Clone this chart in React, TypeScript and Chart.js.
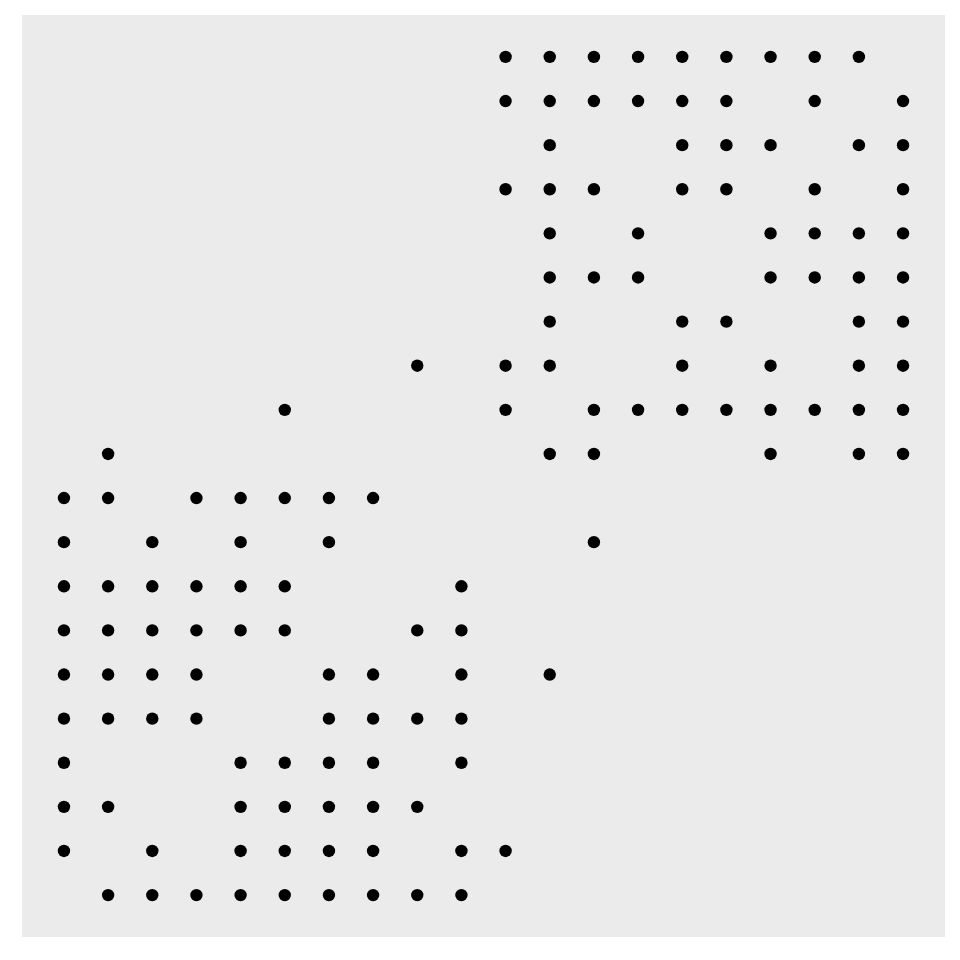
import React, { useEffect, useRef } from "react";
import { Chart, registerables } from "chart.js";

Chart.register(...registerables);

// Node labels (1..20) shared by both axes
const nodes: number[] = Array.from({ length: 20 }, (_, i) => i + 1);

// Adjacency: for each row (top to bottom), the columns that hold a dot
const row01 = [11, 12, 13, 14, 15, 16, 17, 18, 19];
const row02 = [11, 12, 13, 14, 15, 16, 18, 20];
const row03 = [12, 15, 16, 17, 19, 20];
const row04 = [11, 12, 13, 15, 16, 18, 20];
const row05 = [12, 14, 17, 18, 19, 20];
const row06 = [12, 13, 14, 17, 18, 19, 20];
const row07 = [12, 15, 16, 19, 20];
const row08 = [9, 11, 12, 15, 17, 19, 20];
const row09 = [6, 11, 13, 14, 15, 16, 17, 18, 19, 20];
const row10 = [2, 12, 13, 17, 19, 20];
const row11 = [1, 2, 4, 5, 6, 7, 8];
const row12 = [1, 3, 5, 7, 13];
const row13 = [1, 2, 3, 4, 5, 6, 10];
const row14 = [1, 2, 3, 4, 5, 6, 9, 10];
const row15 = [1, 2, 3, 4, 7, 8, 10, 12];
const row16 = [1, 2, 3, 4, 7, 8, 9, 10];
const row17 = [1, 5, 6, 7, 8, 10];
const row18 = [1, 2, 5, 6, 7, 8, 9];
const row19 = [1, 3, 5, 6, 7, 8, 10, 11];
const row20 = [2, 3, 4, 5, 6, 7, 8, 9, 10];

const rows = [
  row01, row02, row03, row04, row05, row06, row07, row08, row09, row10,
  row11, row12, row13, row14, row15, row16, row17, row18, row19, row20,
];

const panelBg = {
  id: "panelBg",
  beforeDraw(chart: any) {
    const { ctx, chartArea } = chart;
    ctx.save();
    ctx.fillStyle = "#EBEBEB";
    ctx.fillRect(chartArea.left, chartArea.top, chartArea.right - chartArea.left, chartArea.bottom - chartArea.top);
    ctx.restore();
  },
};

export default function App() {
  const ref = useRef<HTMLCanvasElement>(null);
  useEffect(() => {
    if (!ref.current) return;
    const points: { x: number; y: number }[] = [];
    rows.forEach((cols, ri) => {
      cols.forEach((c) => points.push({ x: c, y: nodes[ri] }));
    });
    const n = nodes.length;
    const pad = (n - 1) * 0.05;
    const chart = new Chart(ref.current, {
      type: "scatter",
      data: {
        datasets: [
          {
            data: points,
            backgroundColor: "#000000",
            borderWidth: 0,
            pointRadius: 6.2,
            pointHoverRadius: 6.2,
          },
        ],
      },
      options: {
        animation: false,
        responsive: false,
        maintainAspectRatio: false,
        layout: { padding: { left: 22, top: 15, right: 15, bottom: 23 } },
        plugins: { legend: { display: false }, tooltip: { enabled: false } },
        scales: {
          x: { type: "linear", display: false, min: 1 - pad, max: n + pad },
          y: { type: "linear", display: false, reverse: true, min: 1 - pad, max: n + pad },
        },
      },
      plugins: [panelBg],
    });
    return () => chart.destroy();
  }, []);
  return (
    <div style={{ position: "fixed", left: 0, top: 0, width: 960, height: 960, background: "#fff" }}>
      <canvas ref={ref} width={960} height={960} style={{ width: 960, height: 960 }} />
    </div>
  );
}
